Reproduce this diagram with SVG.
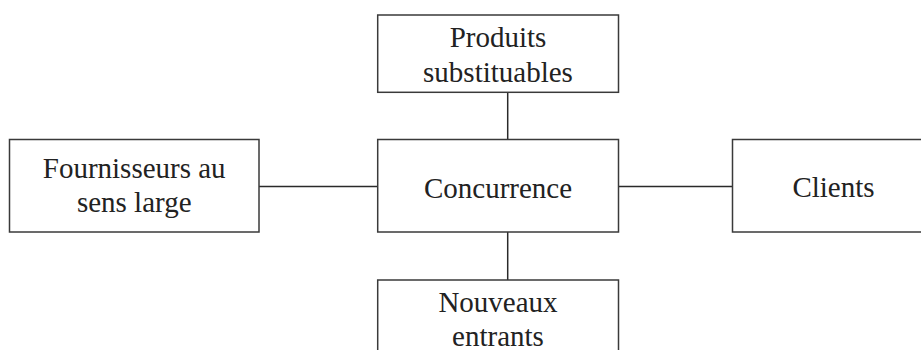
<svg xmlns="http://www.w3.org/2000/svg" width="921" height="350" viewBox="0 0 921 350">
<style>
.box{fill:#fff;stroke:#3a3a3a;stroke-width:1.5}
.lbl{font-family:"Liberation Serif","Times New Roman",serif;font-size:29px;fill:#222;text-anchor:middle}
.conn{stroke:#2a2a2a;stroke-width:1.5;fill:none}
</style>
<rect width="921" height="350" fill="#fff"/>
<g id="connectors">
<line class="conn" x1="507.7" y1="92.5" x2="507.7" y2="139.5"/>
<line class="conn" x1="507.7" y1="232" x2="507.7" y2="280"/>
<line class="conn" x1="259" y1="186.5" x2="377.7" y2="186.5"/>
<line class="conn" x1="618.5" y1="186.5" x2="732.5" y2="186.5"/>
</g>
<g id="produits">
<rect class="box" x="377.7" y="15" width="240.8" height="77.3"/>
<text class="lbl" x="498" y="46.7">Produits</text>
<text class="lbl" x="498" y="81.7">substituables</text>
</g>
<g id="fournisseurs">
<rect class="box" x="9.5" y="139.5" width="249.5" height="92.5"/>
<text class="lbl" x="134.2" y="178.3">Fournisseurs au</text>
<text class="lbl" x="134.2" y="212">sens large</text>
</g>
<g id="concurrence">
<rect class="box" x="377.7" y="139.5" width="240.8" height="92.5"/>
<text class="lbl" x="498" y="198.3">Concurrence</text>
</g>
<g id="clients">
<rect class="box" x="732.5" y="139.5" width="200" height="92.5"/>
<text class="lbl" x="833.5" y="196.7">Clients</text>
</g>
<g id="nouveaux">
<rect class="box" x="377.7" y="280" width="240.8" height="90"/>
<text class="lbl" x="498" y="311.7">Nouveaux</text>
<text class="lbl" x="498" y="346">entrants</text>
</g>
</svg>
